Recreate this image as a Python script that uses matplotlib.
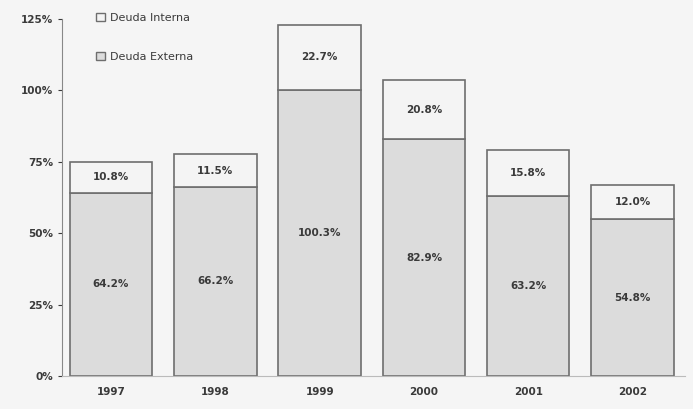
import matplotlib
matplotlib.use("Agg")
import matplotlib.pyplot as plt
from matplotlib.patches import Patch

years = ["1997", "1998", "1999", "2000", "2001", "2002"]
externe = [64.2, 66.2, 100.3, 82.9, 63.2, 54.8]
interne = [10.8, 11.5, 22.7, 20.8, 15.8, 12.0]
yticks = [0, 25, 50, 75, 100, 125]

bg = "#f5f5f5"
edge = "#6e6e6e"
txt = "#3a3a3a"

fig = plt.figure(figsize=(6.93, 4.09), dpi=100, facecolor=bg)
ax = fig.add_axes([0.0895, 0.0807, 0.8985, 0.8728], facecolor=bg)

x = range(len(years))
ax.bar(x, externe, width=0.79, color="#dcdcdc", edgecolor=edge, linewidth=1.2)
ax.bar(x, interne, width=0.79, bottom=externe, color="#f4f4f4", edgecolor=edge, linewidth=1.2)

for i in x:
    ax.text(i, externe[i] / 2, f"{externe[i]:.1f}%", ha="center", va="center",
            fontsize=7.5, fontweight="bold", color=txt)
    ax.text(i, externe[i] + interne[i] / 2, f"{interne[i]:.1f}%", ha="center", va="center",
            fontsize=7.5, fontweight="bold", color=txt)

ax.set_xlim(-0.47, 5.5)
ax.set_ylim(0, 125)
ax.set_yticks(yticks)
ax.set_yticklabels([f"{v}%" for v in yticks])
ax.set_xticks(list(x))
ax.set_xticklabels(years)
ax.tick_params(axis="both", labelsize=7.5, colors=txt, length=3, width=0.8)
ax.tick_params(axis="x", length=0, pad=8)
for lab in ax.get_xticklabels() + ax.get_yticklabels():
    lab.set_fontweight("bold")

for s in ["top", "right"]:
    ax.spines[s].set_visible(False)
ax.spines["left"].set_color("#888888")
ax.spines["bottom"].set_color("#bbbbbb")

handles = [Patch(facecolor="#f4f4f4", edgecolor=edge, label="Deuda Interna"),
           Patch(facecolor="#dcdcdc", edgecolor=edge, label="Deuda Externa")]
ax.legend(handles=handles, loc="upper left", bbox_to_anchor=(0.038, 1.045), frameon=False,
          fontsize=8, labelspacing=2.6, handlelength=0.8, handleheight=0.8,
          handletextpad=0.5, labelcolor=txt)

fig.savefig("out.png", dpi=100, facecolor=bg)
